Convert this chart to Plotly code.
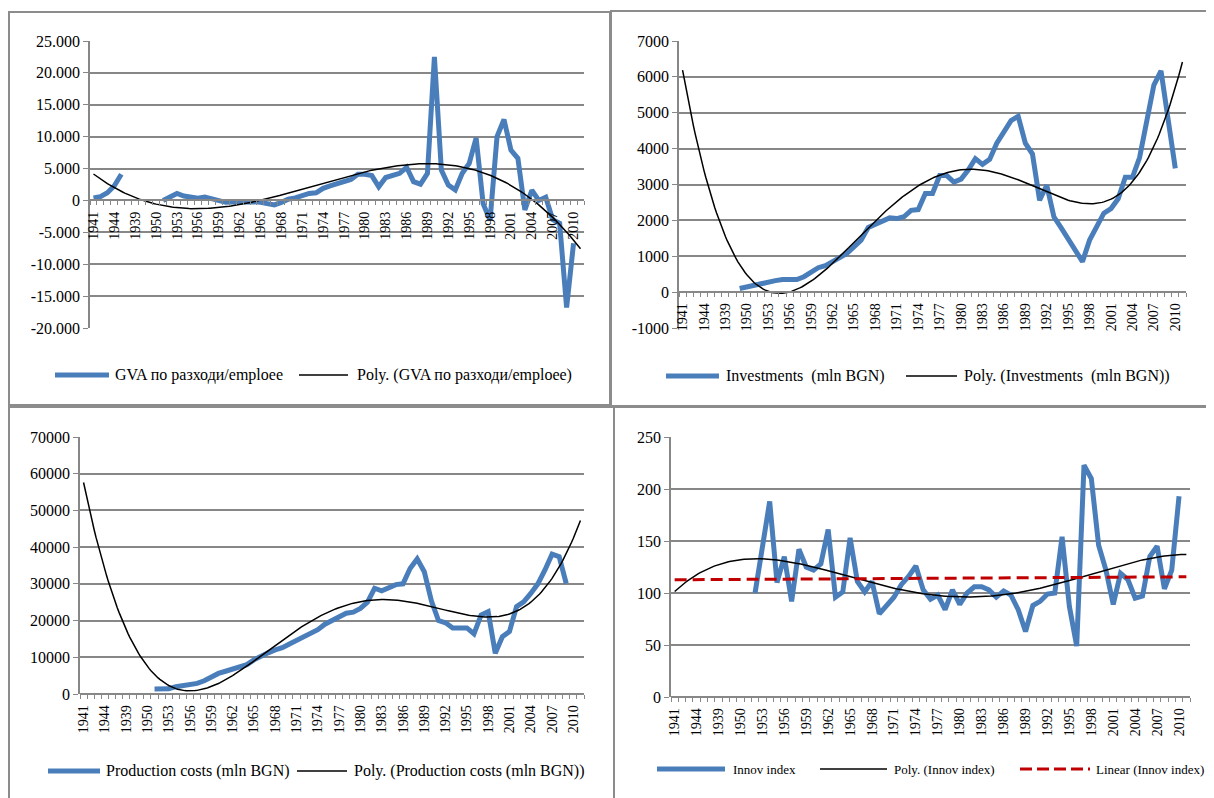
import numpy as np
import plotly.graph_objects as go

# figure size and colours
W, H = 1214, 798
OFF = 8  # the page body keeps an 8px margin round the figure
blue = '#4A7EBB'
red = '#C00000'
grid_color = '#878787'
frame_color = '#8c8c8c'
font_family = 'Liberation Serif'

# category labels (as they appear on the original x axis)
years = ["1941", "1942", "1943", "1944", "1945", "1946", "1939", "1948", "1949"] + \
        [str(y) for y in range(1950, 2012)]
label_idx = list(range(0, 70, 3))

# series values, one per category (None = no data)
gva = [400, 600, 1200, 2300, 4100, None, None, None, None, None,
       0, 600, 1100, 700, 450, 350, 550, 250, -200, -300,
       -250, -200, -150, -200, -300, -450, -700, -300, 200, 400,
       850, 1100, 1200, 1900, 2300, 2600, 2800, 3300, 4100, 4100,
       3900, 2150, 3600, 3900, 4250, 5200, 2950, 2550, 4250, 22500,
       4750, 2400, 1650, 4250, 5800, 9800, -500, -3100, 10000, 12700,
       7900, 6600, -1500, 1600, 0, 500, -3000, -3600, -16800, -6700, None]

investments = [None, None, None, None, None, None, None, None, 100, 150,
               180, 220, 280, 320, 350, 350, 350, 430, 570, 680,
               740, 840, 960, 1080, 1250, 1450, 1800, 1900, 2000, 2070,
               2050, 2100, 2280, 2300, 2750, 2750, 3250, 3250, 3070, 3150,
               3400, 3720, 3560, 3700, 4150, 4500, 4780, 4900, 4150, 3850,
               2560, 2980, 2100, 1800, 1500, 1200, 850, 1450, 1850, 2200,
               2330, 2600, 3200, 3200, 3750, 4800, 5770, 6170, 4800, 3450, None]

production = [None, None, None, None, None, None, None, None, None, None,
              1360, 1380, 1400, 2000, 2300, 2600, 2900, 3600, 4800, 5600,
              6200, 6700, 7200, 8000, 9300, 10400, 11200, 12000, 12600, 13600,
              14600, 15500, 16700, 17500, 19000, 20000, 21200, 22000, 22300, 23300,
              25000, 28800, 28100, 29000, 29800, 30000, 34200, 36800, 33300, 25400,
              20000, 19400, 18000, 18000, 18000, 16400, 21500, 22400, 11100, 15600,
              17000, 23800, 25100, 27400, 30000, 33800, 38100, 37400, 30100, None, None]

innov = [None, None, None, None, None, None, None, None, None, None,
         None, 100, 145, 188, 110, 135, 92, 142, 125, 122,
         128, 161, 96, 101, 153, 111, 101, 111, 80, 88,
         96, 108, 116, 126, 103, 94, 98, 84, 103, 89,
         100, 106, 106, 103, 96, 102, 98, 84, 63, 88,
         92, 99, 100, 154, 87, 49, 223, 210, 146, 122,
         89, 119, 113, 95, 97, 135, 145, 104, 122, 193, None]

# y tick labels
gva_ticks = [-20000, -15000, -10000, -5000, 0, 5000, 10000, 15000, 20000, 25000]
gva_ticktext = ["-20.000", "-15.000", "-10.000", "-5.000", "0",
                "5.000", "10.000", "15.000", "20.000", "25.000"]
inv_ticks = [-1000, 0, 1000, 2000, 3000, 4000, 5000, 6000, 7000]
inv_ticktext = ["-1000", "0", "1000", "2000", "3000", "4000", "5000", "6000", "7000"]
prod_ticks = [0, 10000, 20000, 30000, 40000, 50000, 60000, 70000]
prod_ticktext = ["0", "10000", "20000", "30000", "40000", "50000", "60000", "70000"]
innov_ticks = [0, 50, 100, 150, 200, 250]
innov_ticktext = ["0", "50", "100", "150", "200", "250"]

FW, FH = W - OFF, H - OFF


def fx(px):
    return (px - OFF) / FW


def fy(py):
    return 1 - (py - OFF) / FH


def trend(values, order, step=0.25):
    # least squares polynomial trendline like Excel's, over all categories
    xs = np.array([i for i, v in enumerate(values) if v is not None], dtype=float)
    ys = np.array([v for v in values if v is not None], dtype=float)
    coef = np.polyfit(xs, ys, order)
    xf = np.arange(0, len(values) - 1 + step / 2, step)
    return xf, np.polyval(coef, xf)


x_idx = list(range(len(years)))

fig = go.Figure()

# panel settings: (suffix, values, name, y ticks, y labels, y range, x px, y px, axis-at px, trend order)
panels = [
    ('', gva, 'GVA по разходи/emploee', gva_ticks, gva_ticktext, [-20000, 25000],
     (90, 584), (41, 328), 200.4, 3),
    ('2', investments, 'Investments  (mln BGN)', inv_ticks, inv_ticktext, [-1000, 7000],
     (679, 1186), (41, 328), 292, 4),
    ('3', production, 'Production costs (mln BGN)', prod_ticks, prod_ticktext, [0, 70000],
     (80, 584), (437, 694), 694, 4),
    ('4', innov, 'Innov index', innov_ticks, innov_ticktext, [0, 250],
     (671, 1190), (437, 697), 697, 4),
]

layout_axes = {}
for suf, vals, name, yt, ytt, yr, (xl, xr), (yt_px, yb_px), axis_py, order in panels:
    xa, ya = 'x' + suf, 'y' + suf
    fig.add_trace(go.Scatter(
        x=x_idx, y=vals, mode='lines', name=name,
        line=dict(color=blue, width=5), connectgaps=False,
        xaxis=xa, yaxis=ya, showlegend=False,
    ))
    tx, ty = trend(vals, order)
    fig.add_trace(go.Scatter(
        x=tx, y=ty, mode='lines', name='Poly. (' + name + ')',
        line=dict(color='black', width=1.5),
        xaxis=xa, yaxis=ya, showlegend=False,
    ))
    if suf == '4':
        lx, ly = trend(vals, 1, step=1)
        fig.add_trace(go.Scatter(
            x=lx, y=ly, mode='lines', name='Linear (' + name + ')',
            line=dict(color=red, width=3, dash='12px,6px'),
            xaxis=xa, yaxis=ya, showlegend=False,
        ))

    layout_axes['xaxis' + suf] = dict(
        domain=[fx(xl), fx(xr)], range=[-0.5, len(years) - 0.5],
        anchor='free', position=fy(axis_py), automargin=False,
        showline=True, linecolor=grid_color, linewidth=1.5,
        tickmode='array', tickvals=label_idx, ticktext=[years[i] for i in label_idx],
        tickangle=-90, ticks='', ticklabelstandoff=5,
        tickfont=dict(family=font_family, size=14, color='black'),
        minor=dict(tickmode='linear', tick0=-0.5, dtick=1, ticks='outside',
                   ticklen=4, tickwidth=1, tickcolor=grid_color, showgrid=False),
        showgrid=False, zeroline=False,
    )
    layout_axes['yaxis' + suf] = dict(
        domain=[fy(yb_px), fy(yt_px)], range=yr, anchor=xa, automargin=False,
        tickmode='array', tickvals=yt, ticktext=ytt,
        showgrid=True, gridcolor=grid_color, gridwidth=1.5,
        showline=True, linecolor=grid_color, linewidth=1.5,
        ticks='outside', ticklen=5, tickcolor=grid_color,
        tickfont=dict(family=font_family, size=16, color='black'),
        zeroline=False,
    )

# panel frames
shapes = []
for x0, y0, x1, y1 in [(9, 12, 610, 405), (611, 11, 1240, 406),
                       (9, 407, 614, 830), (614, 407, 1240, 830)]:
    shapes.append(dict(type='rect', xref='paper', yref='paper',
                       x0=fx(x0), x1=fx(x1), y0=fy(y1), y1=fy(y0),
                       line=dict(color=frame_color, width=2), layer='below'))

# legends drawn by hand: (x0, x1, text x, y, colour, width, dash, text, font size)
legend_items = [
    (55, 109, 113, 375, blue, 5, 'solid', 'GVA по разходи/emploee', 16),
    (299, 348, 355, 375, 'black', 1.5, 'solid', 'Poly. (GVA по разходи/emploee)', 16),
    (666, 719, 724, 376, blue, 5, 'solid', 'Investments  (mln BGN)', 16),
    (906, 957, 962, 376, 'black', 1.5, 'solid', 'Poly. (Investments  (mln BGN))', 16),
    (48, 100, 104, 771, blue, 5, 'solid', 'Production costs (mln BGN)', 16),
    (297, 347, 352, 771, 'black', 1.5, 'solid', 'Poly. (Production costs (mln BGN))', 16),
    (657, 725, 731, 769, blue, 5, 'solid', 'Innov index', 13),
    (820, 887, 892, 769, 'black', 1.5, 'solid', 'Poly. (Innov index)', 13),
    (1020, 1090, 1094, 769, red, 3, '12px,5px', 'Linear (Innov index)', 13),
]
annotations = []
for x0, x1, tx, y, col, wd, dash, text, fs in legend_items:
    shapes.append(dict(type='line', xref='paper', yref='paper',
                       x0=fx(x0), x1=fx(x1), y0=fy(y), y1=fy(y),
                       line=dict(color=col, width=wd, dash=dash)))
    annotations.append(dict(text=text, xref='paper', yref='paper', x=fx(tx), y=fy(y),
                            xanchor='left', yanchor='middle', showarrow=False,
                            font=dict(family=font_family, size=fs, color='black')))

fig.update_layout(
    template='none',
    width=FW, height=FH,
    margin=dict(l=0, r=0, t=0, b=0, pad=0),
    font=dict(family=font_family, color='black'),
    paper_bgcolor='white', plot_bgcolor='white',
    showlegend=False,
    shapes=shapes, annotations=annotations,
    **layout_axes,
)

fig.write_html("out.html")
